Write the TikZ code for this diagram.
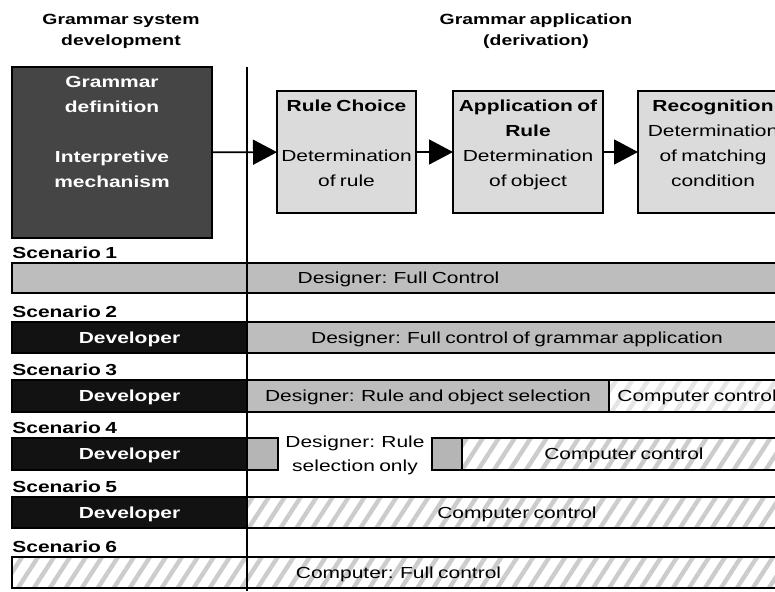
\documentclass[tikz,border=0pt]{standalone}
\usepackage{fontspec}
\setmainfont{Liberation Sans}[FakeStretch=1.31,WordSpace=0.75]
\usetikzlibrary{arrows.meta,positioning,patterns.meta}

% fills
\definecolor{devfill}{gray}{0.07}
\definecolor{defnfill}{gray}{0.27}
\definecolor{barfill}{gray}{0.74}
\definecolor{stagefill}{gray}{0.86}
\definecolor{stubfill}{gray}{0.71}

\tikzset{
  stagebox/.style={draw=black, line width=1pt, fill=stagefill, inner sep=0pt,
    outer sep=0pt, minimum height=61pt},
  boxtext/.style={align=center, inner sep=0pt, font=\fontsize{8pt}{12.5pt}\selectfont},
  flow/.style={-{Triangle[length=12pt,width=12.5pt]}, line width=0.8pt},
  bar/.style={draw=black, line width=0.9pt},
  hatch/.style={pattern={Lines[angle=57,distance=6.7pt,line width=2.2pt]},
    pattern color=gray!40},
  rowtext/.style={inner sep=0pt, text height=5.7pt, text depth=0pt,
    font=\fontsize{8pt}{9.6pt}\selectfont},
  devtext/.style={rowtext, text=white, font=\fontsize{8pt}{9.6pt}\selectfont\bfseries},
  scenlabel/.style={anchor=base west, inner sep=0pt,
    font=\fontsize{8pt}{9.6pt}\selectfont\bfseries},
  heading/.style={anchor=north, align=center, inner sep=0pt,
    font=\fontsize{7.4pt}{10.5pt}\selectfont\bfseries}
}

\begin{document}
\begin{tikzpicture}[x=0.5pt,y=-0.5pt]
    \useasboundingbox (0,0) rectangle (775,591);
    \clip (0,0) rectangle (775,591);

    % Column headings
    \node[heading] (devhead) at (121,14) {Grammar system\\development};
    \node[heading] (apphead) at (536,13) {Grammar application\\(derivation)};

    % Grammar definition box
    \node[stagebox, fill=defnfill, minimum width=100pt, minimum height=85.5pt] (defn) at (112,152.5) {};
    \node[boxtext, text=white, font=\fontsize{8pt}{12.5pt}\selectfont\bfseries, below=4.6pt of defn.north] (defntxt)
        {Grammar\\definition\\[12.5pt]Interpretive\\mechanism};

    % Derivation stages
    \node[stagebox, minimum width=69.5pt] (rule) at (346.5,152) {};
    \node[stagebox, minimum width=75pt] (apply) at (528,152) {};
    \node[stagebox, minimum width=75pt] (recog) at (713,152) {};

    \node[boxtext, below=4.1pt of rule.north] (ruletxt)
        {\textbf{Rule Choice}\\[12.5pt]Determination\\of rule};
    \node[boxtext, below=4.1pt of apply.north] (applytxt)
        {\textbf{Application of}\\\textbf{Rule}\\Determination\\of object};
    \node[boxtext, below=4.1pt of recog.north] (recogtxt)
        {\textbf{Recognition}\\Determination\\of matching\\condition};

    \draw[flow] (defn) -- (rule);
    \draw[flow] (rule) -- (apply);
    \draw[flow] (apply) -- (recog);

    % Scenario 1
    \node[scenlabel] (scen1) at (12,258) {Scenario 1};
    \draw[bar, fill=barfill] (12,263) rectangle (790,293);
    \node[rowtext] (s1des) at (398.5,278) {Designer: Full Control};

    % Scenario 2
    \node[scenlabel] (scen2) at (12,317) {Scenario 2};
    \draw[bar, fill=devfill] (12,322) rectangle (247,353);
    \draw[bar, fill=barfill] (247,322) rectangle (790,353);
    \node[devtext] (s2dev) at (129.5,337.5) {Developer};
    \node[rowtext] (s2des) at (517,337.5) {Designer: Full control of grammar application};

    % Scenario 3
    \node[scenlabel] (scen3) at (12,375) {Scenario 3};
    \draw[bar, fill=devfill] (12,380) rectangle (247,412);
    \draw[bar, fill=barfill] (247,380) rectangle (609,412);
    \draw[bar, hatch, pattern color=gray!20] (609,380) rectangle (790,412);
    \node[devtext] (s3dev) at (129.5,396) {Developer};
    \node[rowtext] (s3des) at (428,396) {Designer: Rule and object selection};
    \node[rowtext, anchor=west] (s3comp) at (617,396) {Computer control};

    % Scenario 4
    \node[scenlabel] (scen4) at (12,433) {Scenario 4};
    \draw[bar, fill=devfill] (12,438) rectangle (247,470);
    \draw[bar, fill=stubfill] (247,438) rectangle (278,470);
    \draw[bar, fill=stubfill] (432,438) rectangle (462,470);
    \draw[bar, hatch] (462,438) rectangle (790,470);
    \node[devtext] (s4dev) at (129.5,454) {Developer};
    \node[boxtext, anchor=north, font=\fontsize{8pt}{12pt}\selectfont] (s4des) at (355,435)
        {Designer: Rule\\selection only};
    \node[rowtext] (s4comp) at (624,454) {Computer control};

    % Scenario 5
    \node[scenlabel] (scen5) at (12,492) {Scenario 5};
    \draw[bar, fill=devfill] (12,497) rectangle (247,528);
    \draw[bar, hatch] (247,497) rectangle (790,528);
    \node[devtext] (s5dev) at (129.5,512.5) {Developer};
    \node[rowtext] (s5comp) at (517,512.5) {Computer control};

    % Scenario 6
    \node[scenlabel] (scen6) at (12,552) {Scenario 6};
    \draw[bar, hatch] (12,557) rectangle (790,588);
    \node[rowtext] (s6comp) at (398.5,572.5) {Computer: Full control};

    % divider between the two columns
    \draw[line width=0.7pt] (247,67) -- (247,591);
\end{tikzpicture}
\end{document}
